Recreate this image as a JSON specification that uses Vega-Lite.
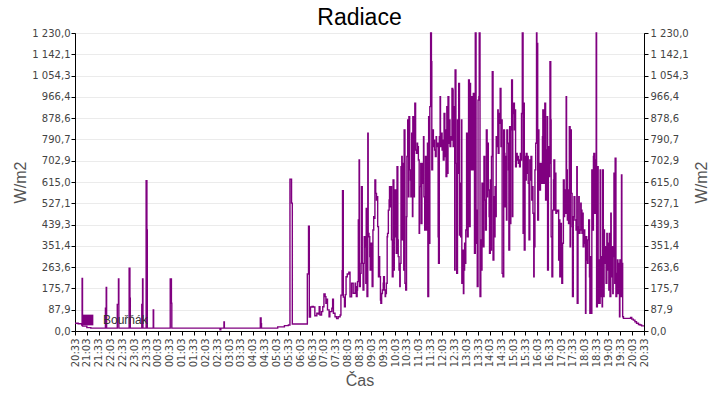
{
"$schema": "https://vega.github.io/schema/vega-lite/v6.json",
"width": 569, "height": 298,
"autosize": {"type": "none"},
"padding": {"left": 75, "top": 33, "right": 76, "bottom": 69},
"background": "white",
"title": {"text": "Radiace", "font": "Liberation Sans", "fontSize": 23, "fontWeight": "normal", "color": "#000", "offset": -2, "anchor": "middle"},
"data": {"values": [
{"m":0,"v":32},{"m":8,"v":30},{"m":17,"v":25},{"m":18,"v":217},{"m":19,"v":20},{"m":30,"v":14},{"m":40,"v":12},
{"m":77,"v":94},{"m":79,"v":180},{"m":80,"v":12},{"m":107,"v":110},{"m":110,"v":215},{"m":111,"v":12},
{"m":137,"v":259},{"m":139,"v":135},{"m":140,"v":12},{"m":169,"v":110},{"m":171,"v":215},{"m":172,"v":12},
{"m":180,"v":620},{"m":182,"v":417},{"m":183,"v":12},{"m":198,"v":87},{"m":199,"v":12},
{"m":241,"v":215},{"m":244,"v":115},{"m":245,"v":12},{"m":367,"v":5},{"m":369,"v":12},{"m":377,"v":37},{"m":378,"v":12},
{"m":469,"v":54},{"m":471,"v":30},{"m":472,"v":12},{"m":513,"v":17},{"m":530,"v":22},{"m":540,"v":25},
{"m":544,"v":627},{"m":548,"v":528},{"m":550,"v":29},
{"m":588,"v":235},{"m":591,"v":433},{"m":593,"v":58},{"m":596,"v":99},{"m":600,"v":101},{"m":603,"v":99},{"m":607,"v":63},{"m":612,"v":73},{"m":616,"v":70},{"m":618,"v":100},{"m":620,"v":66},{"m":624,"v":80},{"m":627,"v":100},{"m":630,"v":153},{"m":633,"v":142},{"m":635,"v":114},{"m":637,"v":131},{"m":639,"v":87},{"m":643,"v":59},{"m":645,"v":80},{"m":650,"v":94},{"m":652,"v":131},{"m":654,"v":73},{"m":658,"v":59},{"m":662,"v":51},{"m":666,"v":59},{"m":671,"v":66},{"m":673,"v":148},{"m":676,"v":249},{"m":677,"v":579},{"m":679,"v":140},{"m":682,"v":100},{"m":684,"v":150},{"m":686,"v":224},{"m":689,"v":235},{"m":693,"v":243},{"m":696,"v":141},{"m":700,"v":197},{"m":704,"v":156},
{"m":709,"v":197},{"m":710,"v":183},{"m":712,"v":142},{"m":714,"v":169},{"m":715,"v":204},{"m":717,"v":458},{"m":719,"v":706},{"m":720,"v":183},{"m":722,"v":238},{"m":724,"v":279},{"m":725,"v":596},{"m":727,"v":279},{"m":729,"v":169},{"m":731,"v":279},{"m":732,"v":389},{"m":734,"v":348},{"m":736,"v":197},{"m":737,"v":506},{"m":739,"v":142},{"m":741,"v":816},{"m":742,"v":403},{"m":744,"v":389},{"m":746,"v":307},{"m":747,"v":252},{"m":749,"v":362},{"m":751,"v":293},{"m":752,"v":183},{"m":754,"v":417},{"m":756,"v":472},{"m":758,"v":465},{"m":759,"v":623},{"m":761,"v":568},{"m":763,"v":541},{"m":764,"v":554},{"m":766,"v":431},{"m":768,"v":224},{"m":769,"v":307},{"m":771,"v":224},{"m":773,"v":128},{"m":774,"v":114},{"m":776,"v":155},{"m":778,"v":169},{"m":780,"v":197},{"m":781,"v":224},{"m":783,"v":169},{"m":785,"v":142},{"m":786,"v":155},{"m":788,"v":197},{"m":790,"v":389},{"m":791,"v":403},{"m":793,"v":499},{"m":795,"v":541},{"m":796,"v":596},{"m":798,"v":513},{"m":800,"v":596},{"m":801,"v":376},{"m":803,"v":224},{"m":805,"v":623},{"m":807,"v":252},{"m":808,"v":582},{"m":810,"v":389},{"m":812,"v":582},{"m":813,"v":321},{"m":815,"v":678},{"m":817,"v":376},{"m":818,"v":307},{"m":820,"v":252},{"m":822,"v":183},{"m":823,"v":279},{"m":825,"v":678},{"m":827,"v":720},{"m":828,"v":376},{"m":830,"v":692},{"m":832,"v":252},{"m":833,"v":830},{"m":835,"v":197},{"m":837,"v":169},{"m":839,"v":472},{"m":840,"v":720},{"m":842,"v":871},{"m":844,"v":554},{"m":845,"v":885},{"m":847,"v":665},{"m":849,"v":623},{"m":850,"v":554},{"m":852,"v":816},{"m":854,"v":472},{"m":855,"v":885},{"m":857,"v":554},{"m":859,"v":775},{"m":860,"v":940},{"m":862,"v":747},{"m":864,"v":733},{"m":866,"v":775},{"m":867,"v":761},{"m":869,"v":706},{"m":871,"v":403},{"m":872,"v":596},
{"m":875,"v":692},{"m":876,"v":444},{"m":878,"v":692},{"m":880,"v":610},{"m":882,"v":802},{"m":883,"v":554},{"m":885,"v":417},{"m":887,"v":720},{"m":888,"v":417},{"m":890,"v":720},{"m":892,"v":775},{"m":893,"v":142},{"m":895,"v":885},{"m":897,"v":362},{"m":898,"v":926},{"m":900,"v":1230},{"m":902,"v":1112},{"m":903,"v":665},{"m":905,"v":830},{"m":907,"v":761},{"m":909,"v":788},{"m":910,"v":747},{"m":912,"v":720},{"m":914,"v":802},{"m":915,"v":761},{"m":917,"v":775},{"m":919,"v":389},{"m":920,"v":279},{"m":922,"v":802},{"m":924,"v":967},{"m":925,"v":761},{"m":927,"v":816},{"m":929,"v":747},{"m":930,"v":788},{"m":932,"v":706},{"m":934,"v":898},{"m":936,"v":720},{"m":937,"v":830},{"m":939,"v":637},{"m":941,"v":926},{"m":942,"v":651},{"m":944,"v":967},{"m":946,"v":775},{"m":947,"v":871},{"m":949,"v":761},{"m":951,"v":802},{"m":952,"v":788},{"m":954,"v":1001},{"m":956,"v":995},{"m":957,"v":761},{"m":959,"v":926},{"m":961,"v":252},{"m":962,"v":1077},{"m":964,"v":692},{"m":966,"v":238},{"m":968,"v":871},{"m":969,"v":651},{"m":971,"v":1022},{"m":973,"v":396},{"m":974,"v":610},{"m":976,"v":389},{"m":978,"v":871},{"m":979,"v":197},{"m":981,"v":334},{"m":983,"v":155},{"m":984,"v":252},{"m":986,"v":362},{"m":988,"v":279},{"m":989,"v":417},{"m":991,"v":816},{"m":993,"v":389},{"m":995,"v":513},{"m":996,"v":1036},{"m":998,"v":431},{"m":1000,"v":1022},{"m":1001,"v":665},{"m":1003,"v":967},{"m":1005,"v":885},{"m":1006,"v":665},{"m":1008,"v":981},{"m":1010,"v":898},{"m":1011,"v":321},{"m":1013,"v":1230},{"m":1015,"v":362},{"m":1016,"v":499},{"m":1018,"v":183},{"m":1020,"v":953},{"m":1022,"v":967},{"m":1023,"v":1230},{"m":1025,"v":142},{"m":1027,"v":376},{"m":1028,"v":252},{"m":1030,"v":610},{"m":1032,"v":499},{"m":1033,"v":348},{"m":1035,"v":720},{"m":1037,"v":541},
{"m":1039,"v":417},{"m":1041,"v":830},{"m":1043,"v":554},{"m":1044,"v":775},{"m":1046,"v":582},{"m":1048,"v":472},{"m":1049,"v":321},{"m":1051,"v":623},{"m":1053,"v":334},{"m":1054,"v":720},{"m":1056,"v":1070},{"m":1058,"v":293},{"m":1060,"v":554},{"m":1061,"v":389},{"m":1063,"v":596},{"m":1065,"v":472},{"m":1066,"v":802},{"m":1068,"v":761},{"m":1070,"v":912},{"m":1071,"v":733},{"m":1073,"v":898},{"m":1075,"v":857},{"m":1076,"v":1001},{"m":1078,"v":761},{"m":1080,"v":871},{"m":1081,"v":238},{"m":1083,"v":224},{"m":1085,"v":830},{"m":1087,"v":733},{"m":1088,"v":513},{"m":1090,"v":720},{"m":1092,"v":458},{"m":1093,"v":830},{"m":1095,"v":775},{"m":1097,"v":665},{"m":1098,"v":334},{"m":1100,"v":843},{"m":1102,"v":444},{"m":1103,"v":830},{"m":1105,"v":1036},{"m":1107,"v":472},{"m":1108,"v":898},{"m":1110,"v":940},{"m":1112,"v":830},{"m":1114,"v":912},{"m":1115,"v":678},{"m":1117,"v":733},{"m":1119,"v":706},{"m":1120,"v":720},{"m":1122,"v":692},{"m":1124,"v":706},{"m":1125,"v":678},{"m":1127,"v":733},{"m":1129,"v":706},{"m":1130,"v":898},{"m":1132,"v":1230},{"m":1134,"v":403},{"m":1135,"v":940},{"m":1137,"v":334},{"m":1139,"v":720},{"m":1141,"v":623},{"m":1142,"v":733},{"m":1144,"v":651},{"m":1146,"v":720},{"m":1147,"v":610},{"m":1149,"v":376},{"m":1151,"v":706},{"m":1152,"v":623},{"m":1154,"v":720},{"m":1156,"v":541},{"m":1157,"v":596},{"m":1159,"v":486},{"m":1161,"v":224},{"m":1162,"v":348},{"m":1164,"v":665},{"m":1166,"v":775},{"m":1168,"v":1230},{"m":1169,"v":1187},{"m":1171,"v":458},{"m":1173,"v":830},{"m":1174,"v":692},{"m":1176,"v":582},{"m":1178,"v":623},{"m":1179,"v":692},{"m":1181,"v":610},{"m":1183,"v":802},{"m":1184,"v":912},{"m":1186,"v":610},{"m":1188,"v":761},{"m":1189,"v":940},{"m":1191,"v":541},{"m":1193,"v":747},{"m":1195,"v":885},{"m":1196,"v":252},{"m":1198,"v":761},{"m":1200,"v":637},{"m":1201,"v":692},
{"m":1202,"v":1112},{"m":1204,"v":871},{"m":1205,"v":389},{"m":1207,"v":224},{"m":1209,"v":499},{"m":1211,"v":623},{"m":1212,"v":706},{"m":1214,"v":499},{"m":1216,"v":651},{"m":1217,"v":486},{"m":1219,"v":499},{"m":1221,"v":493},{"m":1222,"v":499},{"m":1224,"v":293},{"m":1226,"v":458},{"m":1227,"v":224},{"m":1229,"v":444},{"m":1231,"v":348},{"m":1232,"v":197},{"m":1234,"v":362},{"m":1236,"v":623},{"m":1238,"v":472},{"m":1239,"v":582},{"m":1241,"v":486},{"m":1243,"v":967},{"m":1244,"v":665},{"m":1246,"v":458},{"m":1248,"v":582},{"m":1249,"v":444},{"m":1251,"v":843},{"m":1253,"v":348},{"m":1254,"v":830},{"m":1256,"v":568},{"m":1258,"v":431},{"m":1259,"v":142},{"m":1261,"v":472},{"m":1263,"v":554},{"m":1265,"v":458},{"m":1266,"v":458},{"m":1268,"v":417},{"m":1270,"v":678},{"m":1271,"v":114},{"m":1273,"v":431},{"m":1275,"v":554},{"m":1276,"v":403},{"m":1278,"v":417},{"m":1280,"v":527},{"m":1281,"v":499},{"m":1283,"v":403},{"m":1285,"v":486},{"m":1286,"v":348},{"m":1288,"v":417},{"m":1290,"v":362},{"m":1292,"v":73},{"m":1293,"v":389},{"m":1295,"v":293},{"m":1297,"v":279},{"m":1298,"v":376},{"m":1300,"v":458},{"m":1302,"v":224},{"m":1303,"v":73},{"m":1305,"v":307},{"m":1307,"v":73},{"m":1308,"v":665},{"m":1310,"v":417},{"m":1312,"v":720},{"m":1313,"v":733},{"m":1315,"v":486},{"m":1317,"v":706},{"m":1319,"v":1230},{"m":1320,"v":100},{"m":1322,"v":678},{"m":1324,"v":114},{"m":1325,"v":293},{"m":1327,"v":114},{"m":1329,"v":665},{"m":1330,"v":142},{"m":1332,"v":307},{"m":1334,"v":100},{"m":1335,"v":665},{"m":1337,"v":142},{"m":1339,"v":417},{"m":1340,"v":279},{"m":1342,"v":348},{"m":1344,"v":197},{"m":1346,"v":403},{"m":1347,"v":252},{"m":1349,"v":362},{"m":1351,"v":169},{"m":1352,"v":403},{"m":1354,"v":142},{"m":1356,"v":486},{"m":1357,"v":224},{"m":1359,"v":348},{"m":1361,"v":155},{"m":1362,"v":307},{"m":1364,"v":651},{"m":1366,"v":197},{"m":1367,"v":713},{"m":1369,"v":142},{"m":1371,"v":238},{"m":1373,"v":293},{"m":1374,"v":155},{"m":1376,"v":279},{"m":1378,"v":59},{"m":1379,"v":293},
{"m":1381,"v":142},{"m":1383,"v":644},{"m":1384,"v":279},{"m":1386,"v":59},{"m":1388,"v":52},{"m":1405,"v":52},{"m":1406,"v":56},{"m":1409,"v":49},{"m":1413,"v":45},{"m":1417,"v":38},{"m":1421,"v":32},{"m":1426,"v":27},{"m":1430,"v":25},{"m":1434,"v":21},{"m":1440,"v":21}
]},
"layer": [
{
"mark": {"type": "line", "interpolate": "step-after", "strokeWidth": 1.4},
"encoding": {
"x": {"field": "m", "type": "quantitative", "scale": {"domain": [0, 1440], "nice": false, "zero": false},
 "axis": {"title": "Čas", "values": [0,30,60,90,120,150,180,210,240,270,300,330,360,390,420,450,480,510,540,570,600,630,660,690,720,750,780,810,840,870,900,930,960,990,1020,1050,1080,1110,1140,1170,1200,1230,1260,1290,1320,1350,1380,1410,1440],
  "labelExpr": "timeFormat(datetime(2024,0,1,20,33+datum.value),'%H:%M')",
  "labelAngle": 270, "labelOverlap": false, "labelFlush": false, "labelBound": false,
  "tickSize": 4, "labelPadding": 3, "grid": false,
  "labelFont": "DejaVu Sans", "labelFontSize": 10, "labelColor": "#444",
  "titleFont": "Liberation Sans", "titleFontSize": 16, "titleFontWeight": "normal", "titleColor": "#555", "titlePadding": 6,
  "domainColor": "#000", "tickColor": "#000"}},
"y": {"field": "v", "type": "quantitative", "scale": {"domain": [0, 1230], "nice": false},
 "axis": {"orient": "left", "title": "W/m2",
  "values": [0,87.857,175.714,263.571,351.429,439.286,527.143,615,702.857,790.714,878.571,966.429,1054.286,1142.143,1230],
  "labelExpr": "replace(replace(format(datum.value, ',.1f'), ',', ' '), '.', ',')",
  "tickSize": 4, "labelPadding": 1, "grid": true, "gridColor": "#ebebeb",
  "labelFont": "DejaVu Sans", "labelFontSize": 10, "labelColor": "#444",
  "titleFont": "Liberation Sans", "titleFontSize": 16, "titleFontWeight": "normal", "titleColor": "#555", "titlePadding": 3,
  "domainColor": "#000", "tickColor": "#000"}},
"color": {"datum": "Bouřňák", "type": "nominal", "scale": {"range": ["#800080"]},
 "legend": {"orient": "none", "legendX": 7, "legendY": 281, "title": null, "padding": 0,
  "labelFont": "Liberation Sans", "labelFontSize": 12, "labelColor": "#333", "labelOffset": 9,
  "encode": {"symbols": {"update": {"shape": {"value": "square"}, "fill": {"value": "#800080"}, "stroke": {"value": "#800080"}, "strokeWidth": {"value": 0}, "size": {"value": 115}, "opacity": {"value": 1}}}}}}
}
},
{
"data": {"values": [{"v": 0}]},
"mark": {"type": "rule", "opacity": 0},
"encoding": {
"y": {"field": "v", "type": "quantitative",
 "axis": {"orient": "right", "title": "W/m2", "titleAngle": 270, "titleBaseline": "top",
  "values": [0,87.857,175.714,263.571,351.429,439.286,527.143,615,702.857,790.714,878.571,966.429,1054.286,1142.143,1230],
  "labelExpr": "replace(replace(format(datum.value, ',.1f'), ',', ' '), '.', ',')",
  "tickSize": 4, "labelPadding": 2, "grid": false,
  "labelFont": "DejaVu Sans", "labelFontSize": 10, "labelColor": "#444",
  "titleFont": "Liberation Sans", "titleFontSize": 16, "titleFontWeight": "normal", "titleColor": "#555", "titlePadding": 5,
  "domainColor": "#000", "tickColor": "#000"}}
}
}
],
"resolve": {"axis": {"y": "independent"}},
"config": {"view": {"stroke": "#000", "strokeWidth": 1}}
}
